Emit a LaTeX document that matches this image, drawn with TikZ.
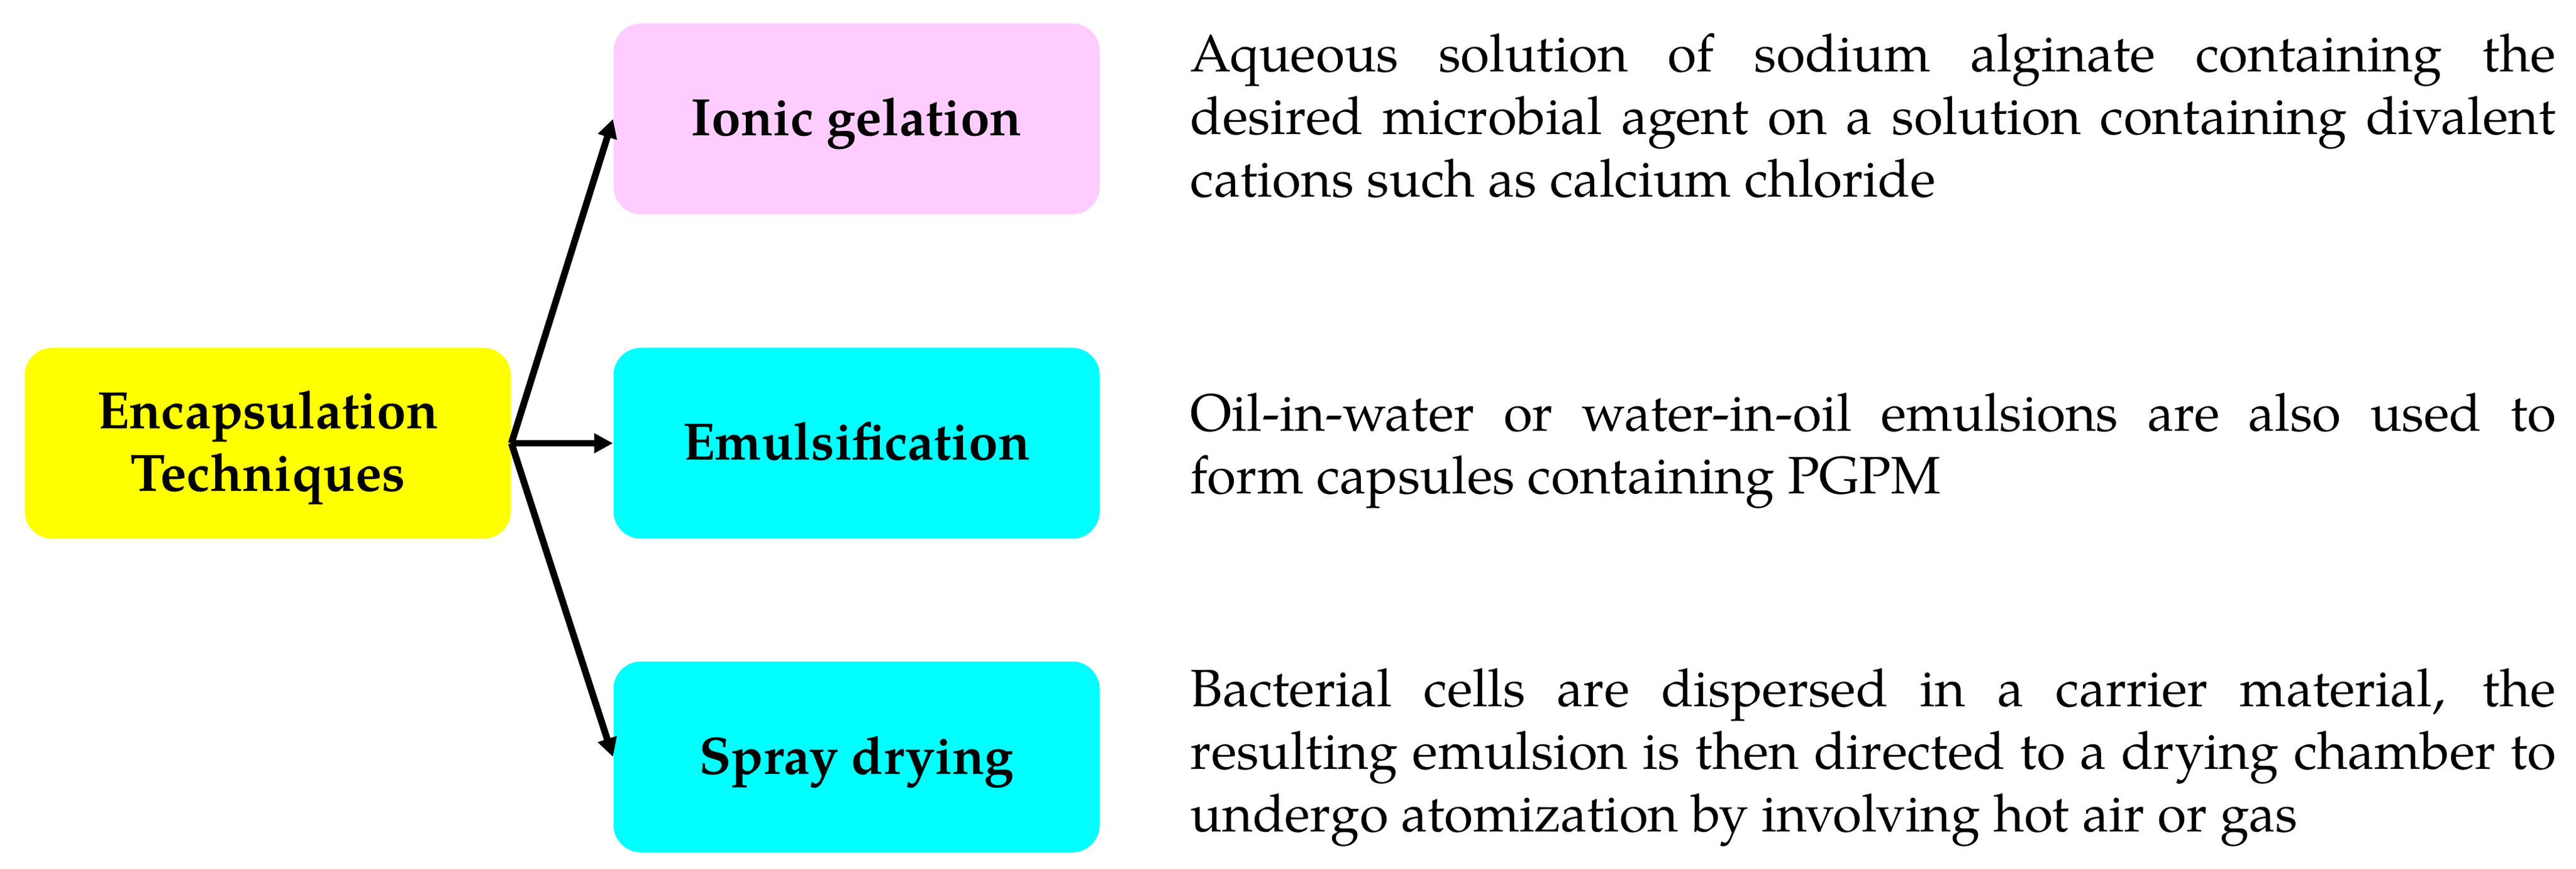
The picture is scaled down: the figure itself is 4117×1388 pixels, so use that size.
\documentclass[tikz,border=0pt]{standalone}
\usepackage{fontspec}
\setmainfont{TeX Gyre Pagella}
\usetikzlibrary{arrows.meta}
\definecolor{yellowc}{HTML}{FFFF00}
\definecolor{pinkc}{HTML}{FFCCFF}
\definecolor{cyanc}{HTML}{00FFFF}
\newcommand{\boxline}[1]{\raisebox{0pt}[15pt][1.5pt]{#1}}
\tikzset{
  box/.style={rounded corners=11pt, minimum width=194.25pt, minimum height=76.25pt,
    inner sep=0pt, align=center, font=\fontsize{21}{25}\selectfont\bfseries},
  desc/.style={anchor=base west, inner sep=0pt, text width=545.5pt, align=justify,
    font=\fontsize{21}{25}\selectfont},
  arr/.style={-{Triangle[length=7.5pt,width=7.5pt]}, line width=2.7pt, black}
}
\begin{document}
\begin{tikzpicture}[x=0.25pt,y=-0.25pt]
\useasboundingbox (0,0) rectangle (4117,1388);
\node[box, fill=yellowc] (enc) at (428,708) {\boxline{Encapsulation}\\\boxline{Techniques}};
\node[box, fill=pinkc] (ion) at (1369,190) {\boxline{Ionic gelation}};
\node[box, fill=cyanc] (emu) at (1369,708) {\boxline{Emulsification}};
\node[box, fill=cyanc] (spr) at (1369,1209) {\boxline{Spray drying}};
\draw[arr] (enc.east) -- (ion.west);
\draw[arr] (enc.east) -- (emu.west);
\draw[arr] (enc.east) -- (spr.west);
\node[desc] (tion) at (1902,115) {Aqueous solution of sodium alginate containing the\linebreak desired microbial agent on a solution containing divalent\linebreak cations such as calcium chloride};
\node[desc] (temu) at (1902,689) {Oil-in-water or water-in-oil emulsions are also used to\linebreak form capsules containing PGPM};
\node[desc] (tspr) at (1902,1128) {Bacterial cells are dispersed in a carrier material, the\linebreak resulting emulsion is then directed to a drying chamber to\linebreak undergo atomization by involving hot air or gas};
\end{tikzpicture}
\end{document}
